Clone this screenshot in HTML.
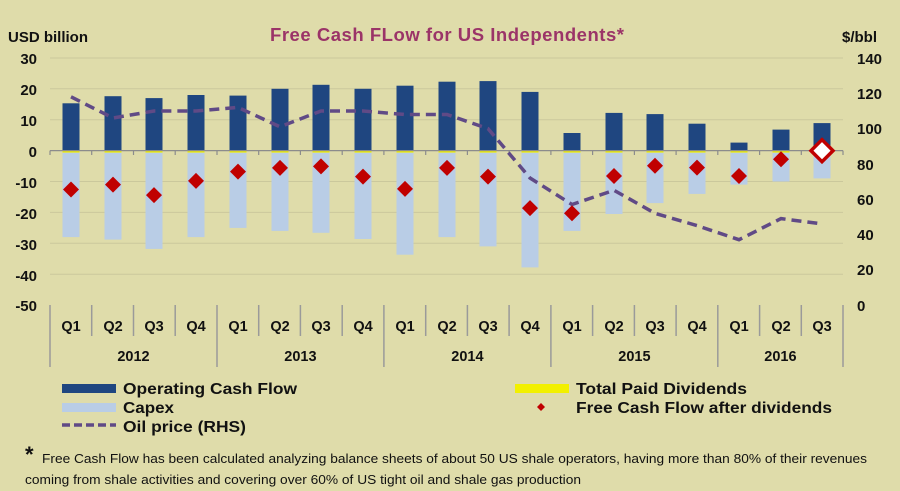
<!DOCTYPE html>
<html><head><meta charset="utf-8"><style>
html,body{margin:0;padding:0;background:#dfdcaa;}
svg{display:block;font-family:"Liberation Sans",Arial,sans-serif;}
</style></head><body>
<svg width="900" height="491" viewBox="0 0 900 491" xmlns="http://www.w3.org/2000/svg">
<rect width="900" height="491" fill="#dfdcaa"/>
<text x="270" y="41" font-size="18.5" font-weight="bold" fill="#9b3468" textLength="354">Free Cash FLow for US Independents*</text>
<text x="8" y="42" font-size="15" font-weight="bold" fill="#111">USD billion</text>
<text x="842" y="42" font-size="15" font-weight="bold" fill="#111">$/bbl</text>
<g stroke="#cbc89c" stroke-width="1">
<line x1="50" x2="843" y1="58" y2="58"/><line x1="50" x2="843" y1="88.8" y2="88.8"/><line x1="50" x2="843" y1="119.7" y2="119.7"/>
<line x1="50" x2="843" y1="181.5" y2="181.5"/><line x1="50" x2="843" y1="212.4" y2="212.4"/><line x1="50" x2="843" y1="243.3" y2="243.3"/><line x1="50" x2="843" y1="274.2" y2="274.2"/>
</g>
<g font-size="15" font-weight="bold" fill="#111" text-anchor="end">
<text x="37" y="64">30</text><text x="37" y="95">20</text><text x="37" y="126">10</text><text x="37" y="157">0</text>
<text x="37" y="188">-10</text><text x="37" y="219">-20</text><text x="37" y="250">-30</text><text x="37" y="281">-40</text><text x="37" y="311">-50</text>
</g>
<g font-size="15" font-weight="bold" fill="#111">
<text x="857" y="64">140</text><text x="857" y="99">120</text><text x="857" y="134">100</text><text x="857" y="170">80</text>
<text x="857" y="205">60</text><text x="857" y="240">40</text><text x="857" y="275">20</text><text x="857" y="311">0</text>
</g>
<g fill="#b9cde6">
<rect x="62.5" y="150.6" width="17" height="86.5"/><rect x="104.5" y="150.6" width="17" height="89"/><rect x="145.5" y="150.6" width="17" height="98.3"/><rect x="187.5" y="150.6" width="17" height="86.5"/>
<rect x="229.5" y="150.6" width="17" height="77.3"/><rect x="271.5" y="150.6" width="17" height="80.3"/><rect x="312.5" y="150.6" width="17" height="82.2"/><rect x="354.5" y="150.6" width="17" height="88.4"/>
<rect x="396.5" y="150.6" width="17" height="104.1"/><rect x="438.5" y="150.6" width="17" height="86.5"/><rect x="479.5" y="150.6" width="17" height="95.8"/><rect x="521.5" y="150.6" width="17" height="116.8"/>
<rect x="563.5" y="150.6" width="17" height="80.3"/><rect x="605.5" y="150.6" width="17" height="63.4"/><rect x="646.5" y="150.6" width="17" height="52.5"/><rect x="688.5" y="150.6" width="17" height="43.3"/>
<rect x="730.5" y="150.6" width="17" height="34"/><rect x="772.5" y="150.6" width="17" height="30.9"/><rect x="813.5" y="150.6" width="17" height="27.8"/>
</g>
<g fill="#1f4680">
<rect x="62.5" y="103.3" width="17" height="47.3"/><rect x="104.5" y="96.2" width="17" height="54.4"/><rect x="145.5" y="98.1" width="17" height="52.5"/><rect x="187.5" y="95" width="17" height="55.6"/>
<rect x="229.5" y="95.6" width="17" height="55"/><rect x="271.5" y="88.8" width="17" height="61.8"/><rect x="312.5" y="84.8" width="17" height="65.8"/><rect x="354.5" y="88.8" width="17" height="61.8"/>
<rect x="396.5" y="85.7" width="17" height="64.9"/><rect x="438.5" y="81.7" width="17" height="68.9"/><rect x="479.5" y="81.1" width="17" height="69.5"/><rect x="521.5" y="91.9" width="17" height="58.7"/>
<rect x="563.5" y="133" width="17" height="17.6"/><rect x="605.5" y="112.9" width="17" height="37.7"/><rect x="646.5" y="114.1" width="17" height="36.5"/><rect x="688.5" y="123.7" width="17" height="26.9"/>
<rect x="730.5" y="142.6" width="17" height="8"/><rect x="772.5" y="129.6" width="17" height="21"/><rect x="813.5" y="123.1" width="17" height="27.5"/>
</g>
<g fill="#f2f000">
<rect x="62.5" y="150.6" width="17" height="2"/><rect x="104.5" y="150.6" width="17" height="2"/><rect x="145.5" y="150.6" width="17" height="2"/><rect x="187.5" y="150.6" width="17" height="2"/>
<rect x="229.5" y="150.6" width="17" height="2"/><rect x="271.5" y="150.6" width="17" height="2"/><rect x="312.5" y="150.6" width="17" height="2"/><rect x="354.5" y="150.6" width="17" height="2"/>
<rect x="396.5" y="150.6" width="17" height="2"/><rect x="438.5" y="150.6" width="17" height="2"/><rect x="479.5" y="150.6" width="17" height="2"/><rect x="521.5" y="150.6" width="17" height="2"/>
<rect x="563.5" y="150.6" width="17" height="2"/><rect x="605.5" y="150.6" width="17" height="2"/><rect x="646.5" y="150.6" width="17" height="2"/><rect x="688.5" y="150.6" width="17" height="2"/>
<rect x="730.5" y="150.6" width="17" height="2"/><rect x="772.5" y="150.6" width="17" height="2"/>
</g>
<g stroke="#8c8c8c" stroke-width="1.2">
<line x1="50" x2="843" y1="150.6" y2="150.6"/>
<line x1="50" x2="50" y1="150.6" y2="155"/><line x1="91.7" x2="91.7" y1="150.6" y2="155"/><line x1="133.5" x2="133.5" y1="150.6" y2="155"/><line x1="175.2" x2="175.2" y1="150.6" y2="155"/><line x1="217" x2="217" y1="150.6" y2="155"/><line x1="258.7" x2="258.7" y1="150.6" y2="155"/><line x1="300.4" x2="300.4" y1="150.6" y2="155"/><line x1="342.2" x2="342.2" y1="150.6" y2="155"/><line x1="383.9" x2="383.9" y1="150.6" y2="155"/><line x1="425.7" x2="425.7" y1="150.6" y2="155"/><line x1="467.4" x2="467.4" y1="150.6" y2="155"/><line x1="509.1" x2="509.1" y1="150.6" y2="155"/><line x1="550.9" x2="550.9" y1="150.6" y2="155"/><line x1="592.6" x2="592.6" y1="150.6" y2="155"/><line x1="634.4" x2="634.4" y1="150.6" y2="155"/><line x1="676.1" x2="676.1" y1="150.6" y2="155"/><line x1="717.8" x2="717.8" y1="150.6" y2="155"/><line x1="759.6" x2="759.6" y1="150.6" y2="155"/><line x1="801.3" x2="801.3" y1="150.6" y2="155"/><line x1="843" x2="843" y1="150.6" y2="155"/>
</g>
<polyline fill="none" stroke="#604a86" stroke-width="3.5" stroke-dasharray="10,6" points="71,96.8 113,118 154,111 196,111 238,107.4 280,126.8 321,111 363,111 405,114.5 447,114.5 488,128.6 530,178 572,204.5 614,190.3 655,213.3 697,225.6 739,239.7 781,218.6 822,223.9"/>
<g fill="#c00000">
<path d="M71 181.5l8 8-8 8-8-8z"/><path d="M113 176.6l8 8-8 8-8-8z"/><path d="M154 187.1l8 8-8 8-8-8z"/><path d="M196 172.9l8 8-8 8-8-8z"/>
<path d="M238 163.6l8 8-8 8-8-8z"/><path d="M280 159.9l8 8-8 8-8-8z"/><path d="M321 158.4l8 8-8 8-8-8z"/><path d="M363 168.6l8 8-8 8-8-8z"/>
<path d="M405 180.9l8 8-8 8-8-8z"/><path d="M447 159.9l8 8-8 8-8-8z"/><path d="M488 168.6l8 8-8 8-8-8z"/><path d="M530 200.1l8 8-8 8-8-8z"/>
<path d="M572 205.3l8 8-8 8-8-8z"/><path d="M614 168l8 8-8 8-8-8z"/><path d="M655 157.7l8 8-8 8-8-8z"/><path d="M697 159.6l8 8-8 8-8-8z"/>
<path d="M739 168l8 8-8 8-8-8z"/><path d="M781 151.3l8 8-8 8-8-8z"/>
</g>
<path d="M822 139.7l11 11-11 11-11-11z" fill="#fff" stroke="#c00000" stroke-width="3.5"/>
<g stroke="#9a9a9a" stroke-width="1.5">
<line x1="50" x2="50" y1="305" y2="367"/><line x1="217" x2="217" y1="305" y2="367"/><line x1="383.9" x2="383.9" y1="305" y2="367"/><line x1="550.9" x2="550.9" y1="305" y2="367"/><line x1="717.8" x2="717.8" y1="305" y2="367"/><line x1="843" x2="843" y1="305" y2="367"/>
<line x1="91.7" x2="91.7" y1="305" y2="336"/><line x1="133.5" x2="133.5" y1="305" y2="336"/><line x1="175.2" x2="175.2" y1="305" y2="336"/><line x1="258.7" x2="258.7" y1="305" y2="336"/><line x1="300.4" x2="300.4" y1="305" y2="336"/><line x1="342.2" x2="342.2" y1="305" y2="336"/><line x1="425.7" x2="425.7" y1="305" y2="336"/><line x1="467.4" x2="467.4" y1="305" y2="336"/><line x1="509.1" x2="509.1" y1="305" y2="336"/><line x1="592.6" x2="592.6" y1="305" y2="336"/><line x1="634.4" x2="634.4" y1="305" y2="336"/><line x1="676.1" x2="676.1" y1="305" y2="336"/><line x1="759.6" x2="759.6" y1="305" y2="336"/><line x1="801.3" x2="801.3" y1="305" y2="336"/>
</g>
<g font-size="14.5" font-weight="bold" fill="#111" text-anchor="middle">
<text x="71" y="331">Q1</text><text x="113" y="331">Q2</text><text x="154" y="331">Q3</text><text x="196" y="331">Q4</text>
<text x="238" y="331">Q1</text><text x="280" y="331">Q2</text><text x="321" y="331">Q3</text><text x="363" y="331">Q4</text>
<text x="405" y="331">Q1</text><text x="447" y="331">Q2</text><text x="488" y="331">Q3</text><text x="530" y="331">Q4</text>
<text x="572" y="331">Q1</text><text x="614" y="331">Q2</text><text x="655" y="331">Q3</text><text x="697" y="331">Q4</text>
<text x="739" y="331">Q1</text><text x="781" y="331">Q2</text><text x="822" y="331">Q3</text>
<text x="133.5" y="361">2012</text><text x="300.4" y="361">2013</text><text x="467.4" y="361">2014</text><text x="634.4" y="361">2015</text><text x="780.4" y="361">2016</text>
</g>
<rect x="62" y="384" width="54" height="9" fill="#1f4680"/>
<rect x="62" y="403" width="54" height="9" fill="#b9cde6"/>
<line x1="62" x2="116" y1="425" y2="425" stroke="#604a86" stroke-width="3.5" stroke-dasharray="8,4"/>
<rect x="515" y="384" width="54" height="9" fill="#f2f000"/>
<path d="M541 403l4 4-4 4-4-4z" fill="#c00000"/>
<g font-size="15.5" font-weight="bold" fill="#111">
<text x="123" y="394" textLength="174" lengthAdjust="spacingAndGlyphs">Operating Cash Flow</text>
<text x="123" y="413" textLength="51" lengthAdjust="spacingAndGlyphs">Capex</text>
<text x="123" y="432" textLength="123" lengthAdjust="spacingAndGlyphs">Oil price (RHS)</text>
<text x="576" y="394" textLength="171" lengthAdjust="spacingAndGlyphs">Total Paid Dividends</text>
<text x="576" y="413" textLength="256" lengthAdjust="spacingAndGlyphs">Free Cash Flow after dividends</text>
</g>
<text x="25" y="462" font-size="22" font-weight="bold" fill="#111">*</text>
<text x="42" y="463" font-size="12.5" fill="#111" textLength="825" lengthAdjust="spacingAndGlyphs">Free Cash Flow has been calculated analyzing balance sheets of about 50 US shale operators, having more than 80% of their revenues</text>
<text x="25" y="484" font-size="12.5" fill="#111" textLength="556" lengthAdjust="spacingAndGlyphs">coming from shale activities and covering over 60% of US tight oil and shale gas production</text>
</svg>
</body></html>
